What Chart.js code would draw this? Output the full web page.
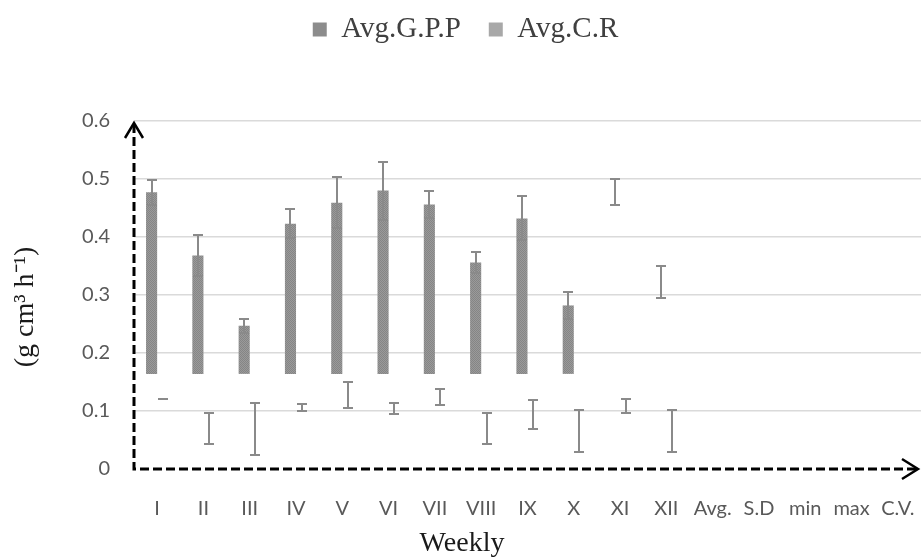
<!DOCTYPE html>
<html>
<head>
<meta charset="utf-8">
<script src="https://cdn.jsdelivr.net/npm/chart.js@4"></script>
<style>
  html, body { margin: 0; padding: 0; background: #fff; }
</style>
</head>
<body>
<canvas id="gppChart" width="923" height="557"></canvas>
<script>
// Weekly categories (plus summary columns, left empty in the figure)
const weeks = ['I', 'II', 'III', 'IV', 'V', 'VI', 'VII', 'VIII', 'IX', 'X', 'XI', 'XII', 'Avg.', 'S.D', 'min', 'max', 'C.V.'];

// Avg.G.P.P - bars are drawn up from a common base
const gppBase = 0.164;
const gppValues = [0.477, 0.368, 0.247, 0.423, 0.459, 0.480, 0.456, 0.356, 0.432, 0.282, 0.478, 0.322, null, null, null, null, null];
const gppErrors = [0.022, 0.035, 0.012, 0.025, 0.044, 0.050, 0.023, 0.018, 0.038, 0.023, 0.022, 0.028, null, null, null, null, null];
const gppNoBar = ['XI', 'XII']; // only the error bar shows for these weeks

// Avg.C.R - only error bars are visible
const crValues = [0.120, 0.070, 0.069, 0.106, 0.128, 0.104, 0.124, 0.070, 0.094, 0.066, 0.108, 0.066, null, null, null, null, null];
const crErrors = [0.000, 0.027, 0.045, 0.006, 0.022, 0.009, 0.014, 0.027, 0.025, 0.036, 0.012, 0.036, null, null, null, null, null];

const yTicks = [0, 0.1, 0.2, 0.3, 0.4, 0.5, 0.6];
const legendColors = ['#8c8c8c', '#a8a8a8'];

// fine dotted fill like the original bars
function dotPattern(ctx, light, dark) {
    const c = document.createElement('canvas');
    c.width = 2; c.height = 2;
    const p = c.getContext('2d');
    p.fillStyle = light; p.fillRect(0, 0, 2, 2);
    p.fillStyle = dark; p.fillRect(0, 0, 1, 1); p.fillRect(1, 1, 1, 1);
    return ctx.createPattern(c, 'repeat');
}

// error bars for both series
const errorBars = {
    id: 'errorBars',
    afterDatasetsDraw(chart) {
        const ctx = chart.ctx;
        const y = chart.scales.y;
        const sets = [[gppValues, gppErrors], [crValues, crErrors]];
        ctx.save();
        ctx.strokeStyle = '#8a8a8a';
        ctx.lineWidth = 2;
        sets.forEach(([vals, errs], di) => {
            chart.getDatasetMeta(di).data.forEach((bar, i) => {
                if (vals[i] == null) return;
                const top = Math.round(y.getPixelForValue(vals[i] + errs[i]));
                const bot = Math.round(y.getPixelForValue(vals[i] - errs[i]));
                const x = Math.round(bar.x);
                ctx.beginPath();
                ctx.moveTo(x, top); ctx.lineTo(x, bot);
                ctx.moveTo(x - 5, top); ctx.lineTo(x + 5, top);
                ctx.moveTo(x - 5, bot); ctx.lineTo(x + 5, bot);
                ctx.stroke();
            });
        });
        ctx.restore();
    }
};

// dashed axes with arrow heads, and the axis titles
const axesAndTitles = {
    id: 'axesAndTitles',
    beforeInit(chart) {
        const fit = chart.legend.fit;
        chart.legend.fit = function() {
            fit.call(this);
            this.height = 134;
        };
    },
    afterDraw(chart) {
        const ctx = chart.ctx;
        const area = chart.chartArea;
        const x0 = area.left, y0 = area.bottom;
        ctx.save();
        ctx.strokeStyle = '#000';
        ctx.lineWidth = 3;
        ctx.setLineDash([9, 4]);
        ctx.beginPath();
        ctx.moveTo(x0, 124); ctx.lineTo(x0, y0);
        ctx.lineTo(916, y0);
        ctx.stroke();
        ctx.setLineDash([]);
        ctx.lineWidth = 2.5;
        ctx.beginPath();
        ctx.moveTo(x0 - 9, 138); ctx.lineTo(x0, 123); ctx.lineTo(x0 + 9, 138);
        ctx.moveTo(902, y0 - 10); ctx.lineTo(918, y0); ctx.lineTo(902, y0 + 10);
        ctx.stroke();

        ctx.fillStyle = '#1a1a1a';
        ctx.font = '28px "Liberation Serif"';
        ctx.textAlign = 'center';
        ctx.textBaseline = 'alphabetic';
        ctx.fillText('Weekly', 462, 551);
        ctx.translate(33, 307);
        ctx.rotate(-Math.PI / 2);
        ctx.fillText('(g cm\u00b3 h\u207b\u00b9)', 0, 0);
        ctx.restore();
    }
};

const ctx = document.getElementById('gppChart').getContext('2d');
const barFill = dotPattern(ctx, '#9a9a9a', '#858585');

new Chart(ctx, {
    type: 'bar',
    data: {
        labels: weeks,
        datasets: [{
            label: 'Avg.G.P.P',
            data: gppValues.map(v => v == null ? null : [gppBase, v]),
            backgroundColor: weeks.map(w => gppNoBar.includes(w) ? 'rgba(0,0,0,0)' : barFill),
            borderWidth: 0
        }, {
            label: 'Avg.C.R',
            data: crValues,
            backgroundColor: 'rgba(0,0,0,0)',
            borderWidth: 0
        }]
    },
    options: {
        responsive: false,
        animation: false,
        layout: { padding: { top: -13, right: 2, left: 10, bottom: 0 } },
        categoryPercentage: 0.48,
        barPercentage: 1,
        plugins: {
            tooltip: { enabled: false },
            legend: {
                position: 'top',
                labels: {
                    font: { family: 'Liberation Serif', size: 29 },
                    color: '#404040',
                    boxWidth: 14,
                    boxHeight: 14,
                    padding: 28,
                    generateLabels: chart => Chart.defaults.plugins.legend.labels.generateLabels(chart)
                        .map((l, i) => ({ ...l, fillStyle: legendColors[i], strokeStyle: legendColors[i], lineWidth: 0 }))
                }
            }
        },
        scales: {
            x: {
                afterFit: scale => {
                    scale.height = 88;
                    scale.paddingLeft = 0;
                    scale.paddingRight = 0;
                },
                grid: { display: false, drawTicks: false },
                border: { display: false },
                ticks: {
                    font: { family: 'Lato', size: 20 },
                    color: '#595959',
                    padding: 28,
                    maxRotation: 0,
                    autoSkip: false
                }
            },
            y: {
                min: 0,
                max: 0.6,
                afterFit: scale => { scale.width = 124; },
                afterBuildTicks: scale => { scale.ticks = yTicks.map(v => ({ value: v })); },
                grid: {
                    color: c => c.tick && c.tick.value === 0 ? 'rgba(0,0,0,0)' : '#dadada',
                    lineWidth: 1.5,
                    drawTicks: false
                },
                border: { display: false },
                ticks: {
                    font: { family: 'Lato', size: 20 },
                    color: '#595959',
                    padding: 24,
                    callback: v => String(Number(v.toFixed(1)))
                }
            }
        }
    },
    plugins: [errorBars, axesAndTitles]
});
</script>
</body>
</html>
